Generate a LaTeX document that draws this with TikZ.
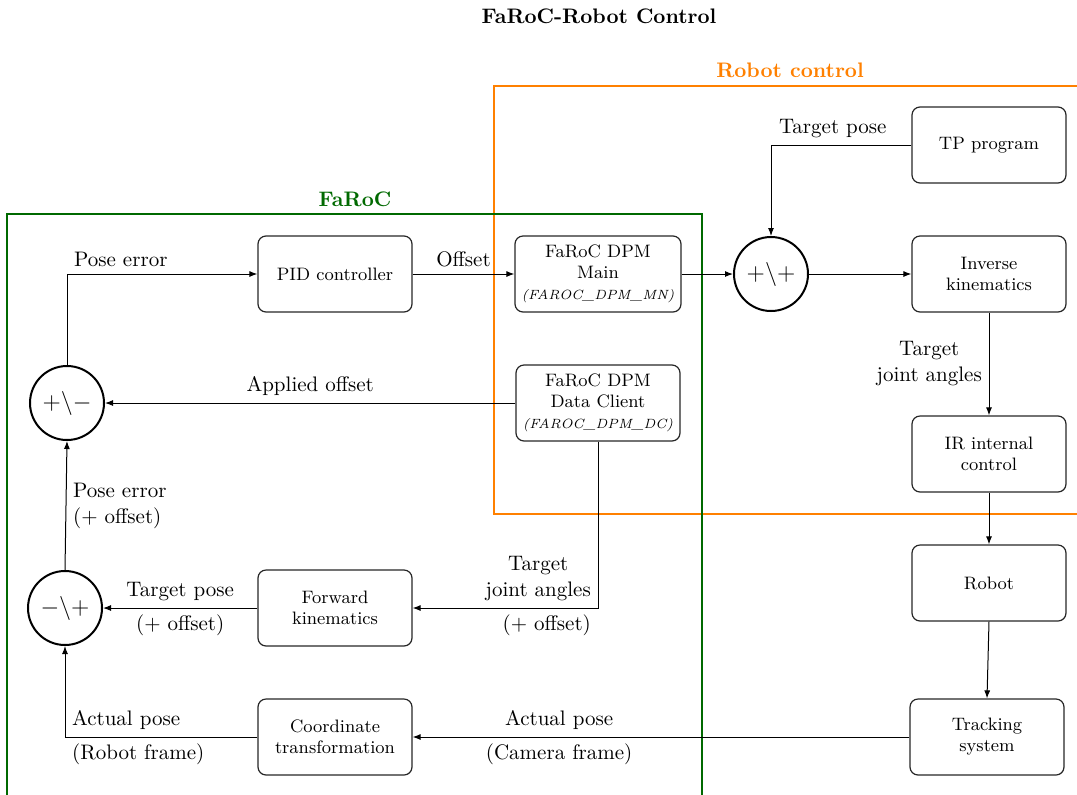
\documentclass[tikz,border=0pt]{standalone}
\usetikzlibrary{arrows.meta}
\definecolor{frameorange}{RGB}{255,128,0}
\definecolor{framegreen}{RGB}{0,105,0}
\tikzset{
 blk/.style={draw=black!85, line width=0.6pt, rounded corners=4pt, minimum width=77pt, minimum height=38pt, align=center, font=\fontsize{9}{10.5}\selectfont, inner sep=2pt},
 sumc/.style={circle, draw, line width=1pt, minimum size=37pt, inner sep=0pt, font=\large},
 arr/.style={-{Latex[length=4pt,width=3pt]}, line width=0.5pt},
 lbl/.style={font=\fontsize{10.5}{13}\selectfont, align=center},
 ttl/.style={font=\fontsize{10.5}{12.5}\selectfont\bfseries},
 frm/.style={line width=1pt},
}
\newcommand{\dpmid}[1]{{\fontsize{6.7}{9}\selectfont\textit{(#1)}}}
\begin{document}
\begin{tikzpicture}[x=0.5pt,y=-0.5pt]
\useasboundingbox (0,0) rectangle (1077,794);
% frames
\draw[frm, frameorange] (494,86) rectangle (1100,514);
\draw[frm, framegreen] (7,214) rectangle (702,820);
\node[ttl] (title) at (599,16) {FaRoC-Robot Control};
\node[ttl, text=frameorange] (rclabel) at (790,70) {Robot control};
\node[ttl, text=framegreen] (fclabel) at (355,199) {FaRoC};
% blocks
\node[blk] (tp) at (989,145) {TP program};
\node[blk] (ik) at (989,274) {Inverse\\kinematics};
\node[blk] (ir) at (989,454) {IR internal\\control};
\node[blk] (robot) at (989,583) {Robot};
\node[blk] (track) at (987,737) {Tracking\\system};
\node[blk] (pid) at (335,274) {PID controller};
\node[blk, minimum width=83pt] (main) at (598,274) {FaRoC DPM\\Main\\\dpmid{FAROC\_DPM\_MN}};
\node[blk, minimum width=82pt] (dc) at (598,403) {FaRoC DPM\\Data Client\\\dpmid{FAROC\_DPM\_DC}};
\node[blk] (fk) at (335,608) {Forward\\kinematics};
\node[blk] (ct) at (335,737) {Coordinate\\transformation};
% summing junctions
\node[sumc] (pp) at (771,274) {$+\backslash+$};
\node[sumc] (pm) at (67,403) {$+\backslash-$};
\node[sumc] (mp) at (65,608) {$-\backslash+$};
% connectors
\draw[arr] (tp.west) -| node[lbl, pos=0.28, above] {Target pose} (pp.north);
\draw[arr] (main.east) -- (pp.west);
\draw[arr] (pp.east) -- (ik.west);
\draw[arr] (ik.south) -- node[lbl, left] {Target\\joint angles} (ir.north);
\draw[arr] (ir.south) -- (robot.north);
\draw[arr] (robot.south) -- (track.north);
\draw[arr] (track.west) -- node[lbl, pos=0.705, above] {Actual pose} node[lbl, pos=0.705, below] {(Camera frame)} (ct.east);
\draw[arr] (ct.west) -| node[lbl, pos=0.5, above right] {Actual pose} node[lbl, pos=0.5, below right] {(Robot frame)} (mp.south);
\draw[arr] (fk.west) -- node[lbl, above] {Target pose} node[lbl, below] {(+ offset)} (mp.east);
\draw[arr] (dc.south) |- node[lbl, pos=0.5, above left] {Target\\joint angles} node[lbl, pos=0.5, below left] {(+ offset)} (fk.east);
\draw[arr] (mp.north) -- node[lbl, right, align=left] {Pose error\\(+ offset)} (pm.south);
\draw[arr] (dc.west) -- node[lbl, above] {Applied offset} (pm.east);
\draw[arr] (pm.north) |- node[lbl, pos=0.5, above right] {Pose error} (pid.west);
\draw[arr] (pid.east) -- node[lbl, above] {Offset} (main.west);
\end{tikzpicture}
\end{document}
